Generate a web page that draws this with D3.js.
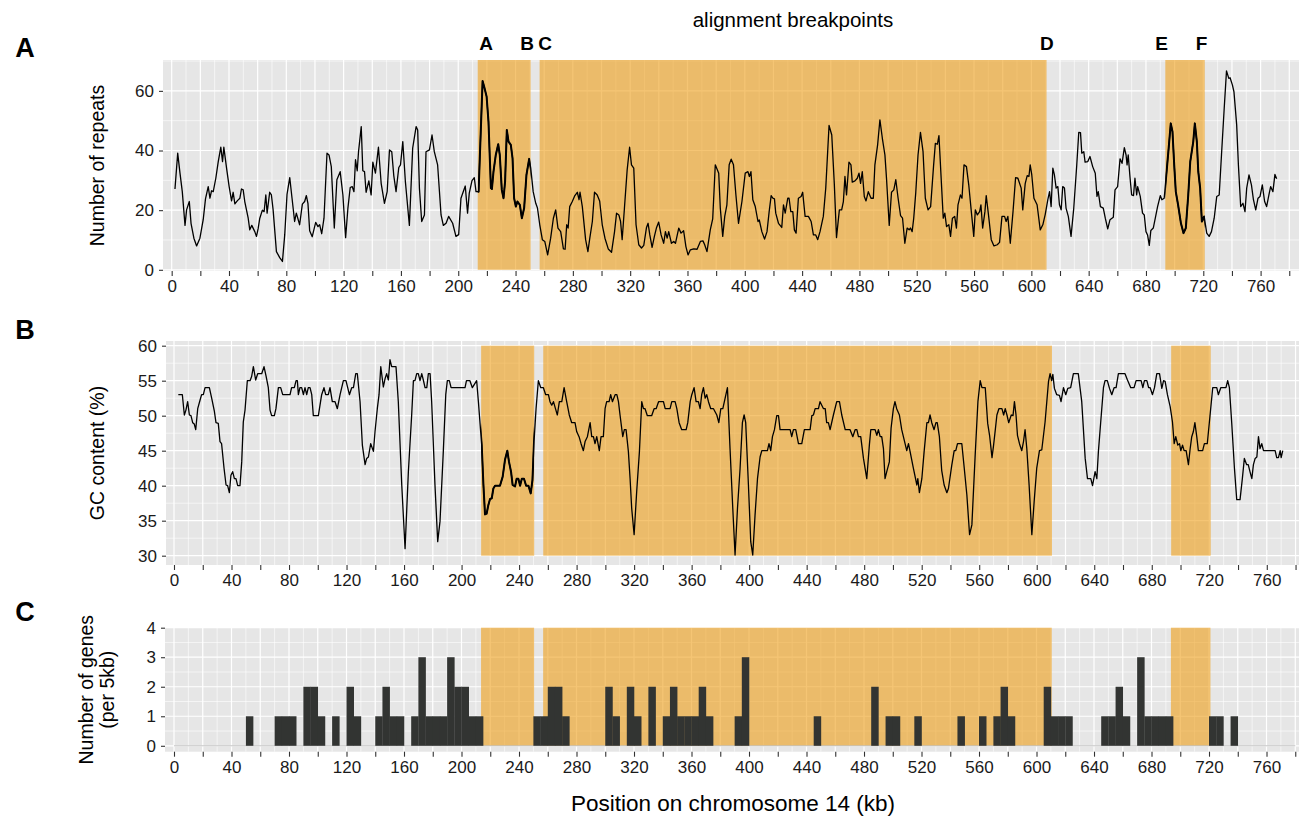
<!DOCTYPE html>
<html><head><meta charset="utf-8">
<script src="https://cdn.jsdelivr.net/npm/d3@7"></script>
<style>
body{margin:0;background:#fff}
svg{display:block}
text{font-family:"Liberation Sans",Arial,Helvetica,sans-serif}
</style>
</head><body>
<svg id="chart" width="1299" height="817"></svg>
<script>
// ---------- DATA ----------
// Panel A: number of repeats (position kb, value)
const repeatPos = [2.3,4.2,5.8,7.4,9.3,10.4,12.3,13.5,15.5,17.4,19.7,22.0,23.6,25.5,26.7,27.8,29.0,30.8,32.5,34.3,35.5,36.4,38.3,40.1,41.8,42.9,44.1,45.9,47.6,48.7,49.9,51.0,53.4,54.5,55.9,58.0,59.2,60.3,61.5,63.3,64.5,65.7,66.6,68.4,69.6,70.8,73.1,75.4,77.3,78.9,80.5,82.4,84.0,85.8,87.0,89.3,91.2,92.8,94.0,95.1,96.3,98.1,100.5,102.1,103.3,104.7,106.3,108.4,109.8,111.4,113.5,115.3,117.6,119.5,121.4,123.0,124.6,126.0,127.2,128.3,129.5,130.4,132.3,133.4,134.6,135.7,137.6,139.2,140.4,142.2,144.3,146.2,148.5,150.4,152.0,153.6,155.0,156.6,158.5,159.7,161.3,163.1,165.9,168.2,170.6,171.7,172.9,174.5,176.4,177.5,179.9,181.7,183.3,185.6,188.0,189.6,191.5,193.3,196.1,198.4,200.3,201.9,204.9,206.5,207.7,209.6,211.2,212.4,214.2,215.8,217.0,218.1,219.8,221.1,222.8,223.5,224.6,226.2,227.9,229.0,230.4,231.6,232.7,233.9,235.1,236.7,237.9,239.0,240.2,241.3,243.0,244.4,246.0,247.6,249.5,250.6,252.3,254.1,255.3,256.9,258.7,260.4,262.4,264.5,266.4,268.0,269.6,271.5,273.4,274.6,275.7,276.7,277.8,279.6,281.4,283.1,284.3,285.0,286.6,288.9,290.5,291.9,293.6,295.1,297.0,298.7,300.5,302.4,304.7,307.0,309.1,310.5,312.1,313.3,314.4,316.0,317.9,319.6,320.9,322.5,324.1,326.0,327.9,329.5,331.4,332.5,333.7,335.3,336.9,338.3,339.9,341.6,343.4,344.6,345.8,346.9,348.8,350.4,351.6,353.9,355.5,357.3,358.9,360.4,362.0,364.3,366.7,369.0,370.8,372.0,373.6,375.9,377.6,379.4,381.8,382.9,384.6,386.0,387.5,389.1,390.5,392.1,393.8,395.6,398.0,400.3,402.2,403.2,404.3,405.6,407.3,409.2,410.1,411.9,413.8,415.5,417.0,418.4,419.6,420.7,421.6,423.5,425.8,427.0,428.2,430.0,430.9,432.1,433.5,434.6,435.8,437.4,439.3,440.4,442.1,444.4,446.3,447.9,449.5,450.9,452.5,454.8,456.5,458.8,460.7,462.5,464.0,466.0,467.6,468.8,469.9,471.0,472.7,474.1,475.0,476.9,478.5,479.7,480.8,482.0,483.4,484.6,486.2,488.1,489.7,490.8,492.7,494.3,496.0,497.8,498.9,500.8,502.4,504.0,505.4,507.0,508.7,510.1,511.7,513.3,514.7,515.6,516.8,517.9,519.3,520.9,522.6,524.4,526.0,527.9,529.7,531.8,533.0,534.4,535.5,537.4,538.5,539.6,540.8,542.4,543.6,544.9,546.5,547.7,548.8,550.5,551.6,553.0,554.7,556.3,558.1,559.8,560.9,562.3,563.9,564.8,566.0,567.6,568.5,570.2,572.0,573.9,576.2,577.8,579.5,581.3,582.4,583.6,585.3,587.2,589.0,590.6,592.9,594.0,595.7,597.1,598.3,599.2,600.3,601.8,604.0,606.2,608.0,609.7,611.5,612.7,613.8,615.0,616.1,617.3,618.5,619.6,620.8,621.9,623.1,624.2,625.8,627.7,629.6,631.7,633.1,634.3,635.2,636.6,637.5,639.4,640.9,642.8,644.6,645.8,646.7,648.2,650.2,651.6,653.3,654.9,657.2,658.4,660.2,661.9,663.3,664.9,666.1,666.8,667.6,668.8,670.0,671.3,672.3,673.5,674.2,676.0,677.6,678.8,680.0,681.1,682.3,683.4,685.1,686.5,688.1,690.0,691.1,692.7,694.5,696.0,697.3,698.5,699.7,700.8,702.4,704.4,706.2,707.8,709.5,710.9,713.0,714.1,715.5,716.5,717.8,719.0,720.6,722.4,724.1,725.7,727.6,729.4,731.1,732.7,734.6,736.2,737.8,738.7,740.3,741.4,743.3,744.5,746.1,747.7,749.1,750.3,751.9,753.6,755.0,756.6,758.2,759.6,761.2,762.8,764.2,765.8,767.0,768.6,770.0,771.2];
const repeatVal = [27.1,39.1,32.4,26.2,14.9,20.1,22.9,15.6,10.6,8.0,10.6,16.8,23.8,27.9,24.0,26.5,26.2,30.7,36.3,41.1,36.3,41.1,34.1,27.9,23.1,26.0,22.1,23.2,24.0,27.1,26.8,22.9,17.3,13.4,14.9,12.8,11.2,13.7,17.3,20.0,19.5,25.1,19.0,26.0,25.1,20.1,6.1,4.1,2.8,11.7,25.3,30.9,24.0,16.2,19.0,15.1,22.0,22.9,24.9,22.3,13.1,11.1,15.9,14.5,15.1,12.1,17.3,39.1,38.5,34.6,14.0,30.2,32.9,25.1,10.8,20.7,27.6,27.9,26.2,36.9,33.2,39.6,48.0,33.2,32.9,26.0,29.8,25.1,36.1,32.4,41.1,29.0,22.3,26.2,40.2,39.6,31.6,26.2,34.3,35.2,43.0,29.6,14.9,40.8,48.0,46.9,27.4,16.2,18.4,39.6,40.2,45.2,39.6,35.2,18.4,14.9,15.6,17.9,15.6,11.2,11.8,24.0,28.1,19.0,25.7,29.9,30.9,26.2,26.2,47.5,63.3,61.4,58.1,49.7,27.4,27.1,32.9,38.5,42.1,38.5,26.8,24.0,29.6,46.9,43.0,41.9,37.4,24.0,21.2,22.9,21.8,17.3,20.7,31.8,37.2,34.1,26.2,22.3,20.7,15.1,10.1,9.5,5.0,10.6,17.3,20.1,14.0,12.8,7.0,6.9,15.1,14.0,21.2,22.9,24.9,26.0,23.5,26.0,21.2,10.1,6.1,10.9,16.2,26.0,25.1,23.1,15.1,10.6,7.0,5.9,12.8,19.0,18.4,16.2,10.1,20.7,33.5,41.1,35.2,34.1,15.1,8.4,7.3,8.2,14.2,15.6,11.7,7.5,11.2,14.0,16.0,11.7,8.9,12.8,10.6,12.8,8.9,9.5,8.9,14.0,12.3,13.1,7.8,5.0,6.7,7.0,6.9,9.5,9.7,8.4,6.1,13.4,17.1,35.2,32.4,20.7,11.2,17.9,21.8,35.2,37.1,35.2,25.1,15.6,22.9,32.4,32.9,31.3,32.9,23.5,21.2,16.2,16.7,12.8,10.3,12.8,19.5,24.9,24.0,23.8,19.0,15.6,14.2,21.8,19.0,24.0,24.0,19.5,19.5,13.4,12.3,24.0,24.6,26.0,17.9,17.9,16.2,11.7,11.7,10.1,12.8,17.9,27.4,48.4,45.2,28.5,10.8,20.1,20.1,22.9,31.3,25.1,36.1,35.2,29.4,29.8,30.7,32.4,29.0,32.9,24.6,23.1,26.2,24.0,24.0,35.2,41.9,50.3,44.1,38.5,30.7,14.9,26.0,26.8,30.2,24.0,18.2,17.3,8.9,14.0,13.4,14.0,12.8,17.3,25.7,38.5,46.1,39.6,24.0,20.1,21.2,35.2,42.4,42.1,45.0,27.4,17.3,19.0,14.5,15.1,11.2,17.3,17.9,14.0,21.8,25.1,24.0,35.2,34.6,28.5,19.5,11.2,20.1,18.4,19.5,21.8,14.0,19.5,24.9,17.9,10.1,8.0,8.4,9.2,17.9,17.9,16.2,17.9,8.9,19.5,30.9,30.7,27.4,20.1,28.9,31.6,31.3,35.2,31.8,24.0,21.8,13.4,15.1,18.6,23.5,26.2,21.2,34.1,31.8,27.4,27.9,21.8,20.1,27.9,27.4,20.7,17.9,11.2,20.7,35.2,46.1,46.0,39.1,39.6,36.1,36.3,38.0,34.6,32.4,24.6,26.2,21.2,20.7,17.3,13.7,16.8,17.6,26.8,27.9,37.2,35.7,41.0,38.5,35.2,38.5,31.3,25.1,24.9,30.7,25.1,27.9,24.6,19.0,18.4,12.8,11.7,8.2,13.2,14.0,17.3,21.2,24.9,23.5,24.0,33.5,41.7,49.1,46.3,35.2,26.2,21.8,15.6,12.3,14.0,25.1,36.3,43.0,49.1,43.0,32.9,27.4,16.2,17.9,12.3,11.2,12.8,17.3,24.6,25.1,38.5,54.2,66.7,64.2,64.4,62.0,59.7,48.6,35.2,21.2,22.3,19.5,27.4,31.8,28.5,23.5,20.1,24.0,24.6,28.5,22.9,21.2,25.1,27.9,26.2,32.0,30.5];

// Panel B: GC content (%)
const gcPos = [3.0,5.8,7.2,8.3,9.5,10.7,11.8,13.0,14.1,15.1,16.5,18.1,19.2,20.4,21.6,24.6,26.2,28.1,29.2,30.8,32.0,33.1,34.8,36.2,37.3,38.5,39.6,40.8,42.0,43.1,44.3,45.9,47.1,48.2,49.4,51.0,52.9,54.0,55.2,56.8,58.2,61.0,62.6,64.0,65.6,66.8,67.9,69.8,70.9,72.6,74.2,75.6,80.7,81.8,83.7,84.9,85.8,86.5,87.6,88.8,90.0,91.1,92.3,93.4,94.6,95.8,96.9,100.4,102.7,104.3,105.5,107.3,108.5,110.1,112.0,113.6,115.5,117.8,119.6,120.8,122.0,123.6,124.8,126.4,127.5,129.4,131.0,132.9,134.0,135.2,136.8,138.7,139.8,141.4,142.6,143.8,145.6,146.8,147.9,149.1,150.2,151.4,154.4,156.0,158.4,160.7,163.0,165.3,166.5,167.6,168.8,169.9,171.1,172.3,173.4,174.6,175.8,176.9,178.1,179.2,181.5,183.4,185.0,187.3,189.0,190.1,191.5,192.7,198.9,202.4,203.4,205.8,207.5,210.5,211.7,214.0,215.2,216.3,217.4,218.6,219.8,221.0,222.1,223.3,226.7,228.6,230.2,231.8,233.0,234.4,235.5,237.2,238.3,239.5,240.7,241.9,243.4,244.9,246.5,248.1,249.3,250.4,251.8,253.4,255.1,256.9,258.5,260.4,261.5,262.7,263.9,265.3,266.6,268.0,269.7,271.3,273.1,274.9,276.6,278.9,280.1,281.7,283.1,284.7,285.9,287.5,289.4,290.5,291.7,292.8,294.0,295.8,297.0,298.6,299.8,300.9,302.6,303.7,304.9,306.8,308.0,309.1,310.2,312.1,313.2,314.4,316.0,317.2,318.3,320.0,321.8,323.7,325.3,326.5,327.6,329.2,332.2,333.9,335.3,337.0,340.4,341.6,345.0,346.2,348.5,349.7,351.3,353.1,356.2,357.3,359.0,360.1,361.7,363.1,364.7,365.9,367.0,368.2,369.4,370.5,371.7,373.3,375.2,377.5,378.9,380.3,381.7,383.3,384.9,386.7,388.6,390.2,391.9,393.7,395.3,396.5,397.6,399.5,401.1,402.5,404.1,405.8,407.6,408.8,412.7,413.8,415.0,416.2,417.6,419.2,420.4,421.5,428.5,429.6,430.8,432.4,434.3,436.6,438.4,442.4,443.6,444.7,445.9,448.2,449.3,451.7,452.9,453.9,455.1,456.3,458.6,460.9,462.8,464.4,466.8,470.2,472.1,473.7,474.9,476.0,477.6,479.5,481.8,483.6,484.6,487.6,488.8,489.9,491.1,492.2,493.4,494.5,495.7,497.5,498.7,500.3,501.4,502.6,504.5,506.1,509.6,510.8,511.9,514.2,516.6,517.3,518.4,520.1,521.7,523.6,524.7,525.8,527.0,528.6,529.9,530.8,532.3,533.9,535.6,537.5,538.6,540.9,542.6,543.7,544.9,547.9,549.6,551.4,553.3,554.9,557.2,559.1,560.7,561.9,564.2,565.9,567.2,568.9,570.0,571.2,572.3,573.7,575.8,577.0,578.1,579.3,580.5,582.3,583.5,584.5,585.6,586.6,588.0,589.6,590.8,591.9,593.1,594.7,596.6,598.2,600.0,601.9,603.5,605.8,608.2,609.3,610.4,611.2,612.3,613.9,615.8,616.9,618.6,620.2,621.6,623.6,625.5,628.9,631.3,633.7,635.3,637.6,638.8,640.6,641.8,642.9,644.5,646.4,647.5,649.1,650.6,652.2,653.8,655.2,656.8,661.4,663.1,665.4,667.7,669.1,672.6,673.8,674.9,676.6,677.8,678.9,680.5,681.9,683.5,685.4,687.0,688.2,689.3,690.9,692.8,694.4,695.6,696.7,698.1,699.3,700.2,701.4,702.5,703.9,705.5,706.6,707.8,708.9,710.0,711.3,712.4,715.4,716.6,718.6,720.5,722.4,725.2,726.3,728.0,731.6,732.8,734.0,735.6,737.5,739.1,741.4,743.0,744.4,746.0,747.1,748.3,749.6,750.7,751.9,753.1,754.2,755.3,756.5,757.7,765.8,766.9,768.1,769.3,770.0,771.1];
const gcVal = [53,53,50.1,50.8,52,50.1,50,49,48.8,48,51,52.2,53,53,54,54,52.5,50.6,49,48.9,46.3,46,42.5,40.1,40,39,41.5,42,41,41,40,40,43.4,49.1,50.8,55,55,55.6,57,55.1,56,56,57,55.7,54,50.8,50,50,51,54,54,53,53,54,54,55,55,53,54,54,53,54,53,54,54,53,50,50,53,54,53,53,54,52,52,51,53,55,55,54,53,54,54,56,56,52,45.8,43,43.9,44.1,46,44.9,47.7,51,53,57,54.1,55.3,56,55.1,58,57,57,52,40.1,31,42,50.1,55,55,56,56,55,56,55.1,54,54,56,56,52,40.1,32,34.9,44.9,53,55,55,54,54,54,55,55,54,55,52,45.8,40.1,35.9,36,37.2,38.1,38.2,39.6,40,40,41.3,43.7,45,43.4,42,40.1,39.9,41,41,40,41,41,40,40,38.9,40.8,46.3,51,55,54,54,53,53,52,51.5,52,51,50.1,52,52,54,52,50.1,49,49,47.7,47,46,45,46.3,47,49,47,47,46,47,45,47,47,51,52,52,53,52,53,53,52,50.1,47,48,48,44.9,41,36.8,33,39.2,44.9,52,51,51,50,50,51,51,52,52,51,51,52,52,51,49,48,48,49,52,53,54,52,52,51,53,54,52.5,53,52,51,51,50.1,49,51,51,52.5,54,45.3,36.8,30.1,36.8,42.5,49,50.1,49,40.1,32,30.1,35.8,41,44.1,45,45,46,45,47,48,50,50,48,48,47,48,48,46,46,48,48,50,50.1,51,51,52,51,51,49,49,48,50.1,52,52,50.1,48,48,47,48,48,47,47,43.9,41,45.8,48,48,47.2,48,47,47,45.3,41,42,43.4,48.2,51,52,51,50.1,48,45,46,44.9,42.5,40.1,41,39,41,44.9,49,49,50.1,49,48,49,49,47,42.2,40.1,39,39.6,42.9,45,45,46,46,42.5,38.7,33,34.4,44.4,52,55,54,54,48.9,47.2,44,45.8,48,50.1,51,51,50.1,51,50.1,49,50.1,50,52,50.1,47.2,46,45,46.3,48,45.3,40.1,33,37.7,42.5,45,45.1,49.1,54.9,56,55,55.9,53.9,53,52.9,52,54,53,53.9,54,56,56,52,43.9,41,41,40,42,41,44.9,49.1,54,55,55,53.9,53,54,54,56,56,55.1,54,54,55,55,54,55,55,54,54,53,54,56,56,53.9,55,54.9,53,51.3,49.1,46,47,45.8,46,45,45.8,45,45,43,45.1,47,47.7,49,47,45,45,46,46,50,54,54,53,54,54,55,54,49,42.5,38,38,41,43.9,43,43,42,41,43,43.9,44.1,47,45.3,46,45,45,44,44,45,44,45];

// Panel C: genes per 5 kb bin (bin start kb, count) – non-empty bins
const geneBinStart = [50,70,75,80,90,95,100,110,120,125,140,145,150,155,165,170,175,180,185,190,195,200,205,210,250,255,260,265,270,300,305,315,320,330,340,345,350,355,360,365,370,390,395,445,485,495,500,515,545,560,570,575,580,605,610,615,620,645,650,655,660,670,675,680,685,690,720,725,735];
const geneCount    = [1,1,1,1,2,2,1,1,2,1,1,2,1,1,1,3,1,1,1,3,2,2,1,1,1,1,2,2,1,2,1,2,1,2,1,2,1,1,1,2,1,1,3,1,2,1,1,1,1,1,1,2,1,2,1,1,1,1,1,2,1,3,1,1,1,1,1,1,1];
const binWidth = 5;

// Alignment blocks (kb) and breakpoint labels
const blockStart = [213.6, 256.8, 693.5];
const blockEnd   = [250.5, 610.6, 721.0];
const breakLabels = ["A","B","C","D","E","F"];
const breakLabelPos = [219.5, 248.1, 260.6, 610.8, 690.9, 718.8];

const xTicks = d3.range(0, 781, 20);
const xLabelTicks = d3.range(0, 761, 40);

// ---------- DRAWING ----------
const svg = d3.select("#chart");
const FONT = '"Liberation Sans",Arial,Helvetica,sans-serif';

const panels = {
  A: {left:163, right:1299, top:60, bottom:271, xd:[-6.06, 786.8], yd:[-0.4, 70.35],
      yMajor:[0,20,40,60], yMinor:[10,30,50,70], blockY:[0, 70.35]},
  B: {left:166, right:1299, top:341, bottom:565, xd:[-5.56, 782.4], yd:[28.67, 60.67],
      yMajor:[30,35,40,45,50,55,60], yMinor:[32.5,37.5,42.5,47.5,52.5,57.5], blockY:[30,60]},
  C: {left:165, right:1299, top:627.7, bottom:751.7, xd:[-6.26, 782.6], yd:[-0.2, 4.0],
      yMajor:[0,1,2,3,4], yMinor:[0.5,1.5,2.5,3.5], blockY:[0,4]}
};

function setupPanel(p) {
  p.x = d3.scaleLinear().domain(p.xd).range([p.left, p.right]);
  p.y = d3.scaleLinear().domain(p.yd).range([p.bottom, p.top]);
  const g = svg.append("g");
  p.g = g;
  g.append("rect").attr("x", p.left).attr("y", p.top)
    .attr("width", p.right - p.left).attr("height", p.bottom - p.top).attr("fill", "#E6E6E6");
  const xMinor = d3.range(10, 791, 20).filter(v => v >= p.xd[0] && v <= p.xd[1]);
  const xMajor = d3.range(0, 791, 20).filter(v => v >= p.xd[0] && v <= p.xd[1]);
  g.selectAll(".vmin").data(xMinor).join("line")
    .attr("x1", d => p.x(d)).attr("x2", d => p.x(d)).attr("y1", p.top).attr("y2", p.bottom)
    .attr("stroke", "#fff").attr("stroke-width", 0.6);
  g.selectAll(".hmin").data(p.yMinor.filter(v => v >= p.yd[0] && v <= p.yd[1])).join("line")
    .attr("y1", d => p.y(d)).attr("y2", d => p.y(d)).attr("x1", p.left).attr("x2", p.right)
    .attr("stroke", "#fff").attr("stroke-width", 0.6);
  g.selectAll(".vmaj").data(xMajor).join("line")
    .attr("x1", d => p.x(d)).attr("x2", d => p.x(d)).attr("y1", p.top).attr("y2", p.bottom)
    .attr("stroke", "#fff").attr("stroke-width", 1.2);
  g.selectAll(".hmaj").data(p.yMajor).join("line")
    .attr("y1", d => p.y(d)).attr("y2", d => p.y(d)).attr("x1", p.left).attr("x2", p.right)
    .attr("stroke", "#fff").attr("stroke-width", 1.2);

  // axes
  const xAxis = d3.axisBottom(p.x).tickValues(xTicks)
    .tickFormat(d => xLabelTicks.includes(d) ? d : "").tickSize(5).tickPadding(4);
  const ax = svg.append("g").attr("transform", `translate(0,${p.bottom})`).call(xAxis);
  ax.select(".domain").remove();
  ax.selectAll(".tick line").attr("stroke", "#333").attr("stroke-width", 1.1);
  ax.selectAll(".tick text").attr("fill", "#1a1a1a").style("font-size", "17px").style("font-family", FONT);

  const yAxis = d3.axisLeft(p.y).tickValues(p.yMajor).tickFormat(d3.format("d")).tickSize(4).tickPadding(5);
  const ay = svg.append("g").attr("transform", `translate(${p.left},0)`).call(yAxis);
  ay.select(".domain").remove();
  ay.selectAll(".tick line").attr("stroke", "#333").attr("stroke-width", 1.1);
  ay.selectAll(".tick text").attr("fill", "#1a1a1a").style("font-size", "17px").style("font-family", FONT);
}

function drawBlocks(p) {
  p.g.selectAll(".blk").data(blockStart.map((s, i) => [s, blockEnd[i]])).join("rect")
    .attr("x", d => p.x(d[0])).attr("width", d => p.x(d[1]) - p.x(d[0]))
    .attr("y", p.y(p.blockY[1])).attr("height", p.y(p.blockY[0]) - p.y(p.blockY[1]))
    .attr("fill", "#EE9E17").attr("fill-opacity", 0.6);
}

function drawLine(p, xs, ys, id, thickRanges) {
  const pts = xs.map((x, i) => [x, ys[i]]);
  const line = d3.line().x(d => p.x(d[0])).y(d => p.y(d[1]));
  p.g.append("path").datum(pts).attr("d", line).attr("fill", "none")
    .attr("stroke", "#000").attr("stroke-width", 1.3).attr("stroke-linejoin", "round");
  thickRanges.forEach((r, i) => {
    const cid = `${id}clip${i}`;
    svg.append("clipPath").attr("id", cid).append("rect")
      .attr("x", p.x(r[0])).attr("y", p.top).attr("width", p.x(r[1]) - p.x(r[0])).attr("height", p.bottom - p.top);
    p.g.append("path").datum(pts).attr("d", line).attr("fill", "none")
      .attr("stroke", "#000").attr("stroke-width", 2.0).attr("stroke-linejoin", "round")
      .attr("clip-path", `url(#${cid})`);
  });
}

const A = panels.A, B = panels.B, C = panels.C;
[A, B, C].forEach(setupPanel);
[A, B, C].forEach(drawBlocks);

drawLine(A, repeatPos, repeatVal, "a", [[blockStart[0], blockEnd[0]], [blockStart[2], blockEnd[2]]]);
drawLine(B, gcPos, gcVal, "b", [[blockStart[0], blockEnd[0]]]);

// Panel C bars
C.g.append("line").attr("x1", C.x(0)).attr("x2", C.x(780)).attr("y1", C.y(0)).attr("y2", C.y(0))
  .attr("stroke", "#B5B5B5").attr("stroke-width", 0.8);
C.g.selectAll(".bar").data(geneBinStart.map((s, i) => [s, geneCount[i]])).join("rect")
  .attr("x", d => C.x(d[0])).attr("width", d => C.x(d[0] + binWidth) - C.x(d[0]) + 0.3)
  .attr("y", d => C.y(d[1])).attr("height", d => C.y(0) - C.y(d[1]))
  .attr("fill", "#323432");

// ---------- TEXT ----------
function txt(x, y, s, size, weight, anchor, rot) {
  const t = svg.append("text").attr("x", x).attr("y", y).text(s)
    .style("font-size", size + "px").style("font-weight", weight || "normal")
    .attr("text-anchor", anchor || "middle").attr("dominant-baseline", "central").attr("fill", "#000");
  if (rot) t.attr("transform", `rotate(${rot},${x},${y})`);
  return t;
}
txt(25, 48, "A", 27, "bold");
txt(25, 330, "B", 27, "bold");
txt(25, 612, "C", 27, "bold");
txt(793, 19, "alignment breakpoints", 20.5);
breakLabels.forEach((l, i) => txt(A.x(breakLabelPos[i]), 43, l, 19, "bold"));
txt(97, (A.top + A.bottom) / 2, "Number of repeats", 19.5, "normal", "middle", -90);
txt(97, (B.top + B.bottom) / 2, "GC content (%)", 19.5, "normal", "middle", -90);
txt(86, (C.top + C.bottom) / 2, "Number of genes", 19.5, "normal", "middle", -90);
txt(107, (C.top + C.bottom) / 2, "(per 5kb)", 19.5, "normal", "middle", -90);
txt(733, 803, "Position on chromosome 14 (kb)", 22.5);
</script>
</body></html>
